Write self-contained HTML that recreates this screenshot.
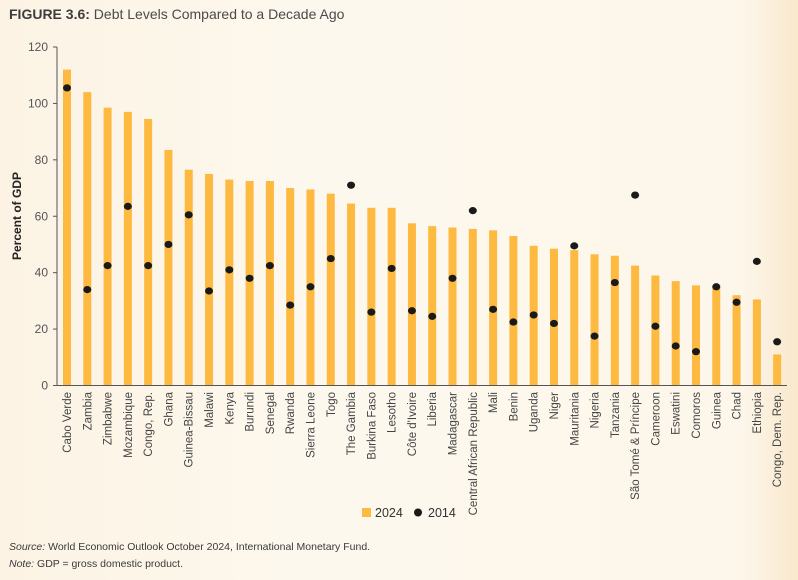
<!DOCTYPE html>
<html><head><meta charset="utf-8"><style>
html,body{margin:0;padding:0}
body{width:798px;height:580px;overflow:hidden;background:linear-gradient(90deg,#fcf3e4 0%,#fdf8ee 40%,#fdf6ea 93%,#f9e8cc 100%);font-family:"Liberation Sans",sans-serif;position:relative}
#title{position:absolute;left:9px;top:6px;font-size:14px;color:#4a4a4a}
#title b{color:#3d3d3d}
.foot{position:absolute;left:9px;font-size:10.5px;color:#3a3a3a}
</style></head><body>
<div id="title"><b>FIGURE 3.6:</b> Debt Levels Compared to a Decade Ago</div>
<svg id="chart" width="798" height="580" style="position:absolute;left:0;top:0"></svg>
<div class="foot" style="top:541px"><i>Source:</i> World Economic Outlook October 2024, International Monetary Fund.</div>
<div class="foot" style="top:558px"><i>Note:</i> GDP = gross domestic product.</div>
<script>
const categories=["Cabo Verde","Zambia","Zimbabwe","Mozambique","Congo, Rep.","Ghana","Guinea-Bissau","Malawi","Kenya","Burundi","Senegal","Rwanda","Sierra Leone","Togo","The Gambia","Burkina Faso","Lesotho","Côte d'Ivoire","Liberia","Madagascar","Central African Republic","Mali","Benin","Uganda","Niger","Mauritania","Nigeria","Tanzania","São Tomé & Príncipe","Cameroon","Eswatini","Comoros","Guinea","Chad","Ethiopia","Congo, Dem. Rep."];
const values2024=[112,104,98.5,97,94.5,83.5,76.5,75,73,72.5,72.5,70,69.5,68,64.5,63,63,57.5,56.5,56,55.5,55,53,49.5,48.5,48,46.5,46,42.5,39,37,35.5,35,32,30.5,11];
const values2014=[105.5,34,42.5,63.5,42.5,50,60.5,33.5,41,38,42.5,28.5,35,45,71,26,41.5,26.5,24.5,38,62,27,22.5,25,22,49.5,17.5,36.5,67.5,21,14,12,35,29.5,44,15.5];
const yTicks=[0,20,40,60,80,100,120];
const NS="http://www.w3.org/2000/svg";
const svg=document.getElementById('chart');
const y0=385.5,y120=47,axisX=57,firstX=67,step=20.29;
const yScale=v=>y0-(y0-y120)*v/120;
const xScale=i=>firstX+i*step;
function mk(t,a){const e=document.createElementNS(NS,t);for(const k in a)e.setAttribute(k,a[k]);svg.appendChild(e);return e;}
const font='"Liberation Sans Narrow","Liberation Sans",sans-serif';
let ax=mk('line',{x1:axisX,y1:y120,x2:axisX,y2:y0,stroke:'#555','stroke-width':1});


yTicks.forEach(t=>{
  let l=mk('line',{x1:axisX-4,x2:axisX,y1:yScale(t),y2:yScale(t),stroke:'#555','stroke-width':1});
  
  
  let tx=mk('text',{x:axisX-9,y:yScale(t)+4,'text-anchor':'end','font-size':12,fill:'#555','font-family':font});
  tx.textContent=t;
  
  
});
let yt=mk('text',{transform:'translate(21,216) rotate(-90)','text-anchor':'middle','font-size':12,'font-weight':'bold',fill:'#222','font-family':font});
yt.textContent='Percent of GDP';


categories.forEach((c,i)=>{
  const x=xScale(i);
  let r=mk('rect',{x:x-4,y:yScale(values2024[i]),width:8,height:y0-yScale(values2024[i]),fill:'#fdb940'});
  
  
  let d=mk('ellipse',{cx:x,cy:yScale(values2014[i]),rx:4,ry:3.6,fill:'#1a1a1a'});
  
  
  let tx=mk('text',{transform:`translate(${x+4},392) rotate(-90)`,'text-anchor':'end','font-size':11.5,fill:'#444','font-family':font});
  tx.textContent=c;
  
  
});
let xa=mk('line',{x1:axisX,y1:y0,x2:787,y2:y0,stroke:'#555','stroke-width':1});


let ls=mk('rect',{x:362,y:508,width:9,height:9,fill:'#fdb940'});


let lt=mk('text',{x:375,y:517,'font-size':12.5,fill:'#333','font-family':font});
lt.textContent='2024';


let ld=mk('circle',{cx:418,cy:512.5,r:4,fill:'#1a1a1a'});


let lt2=mk('text',{x:428,y:517,'font-size':12.5,fill:'#333','font-family':font});
lt2.textContent='2014';


</script>
</body></html>
